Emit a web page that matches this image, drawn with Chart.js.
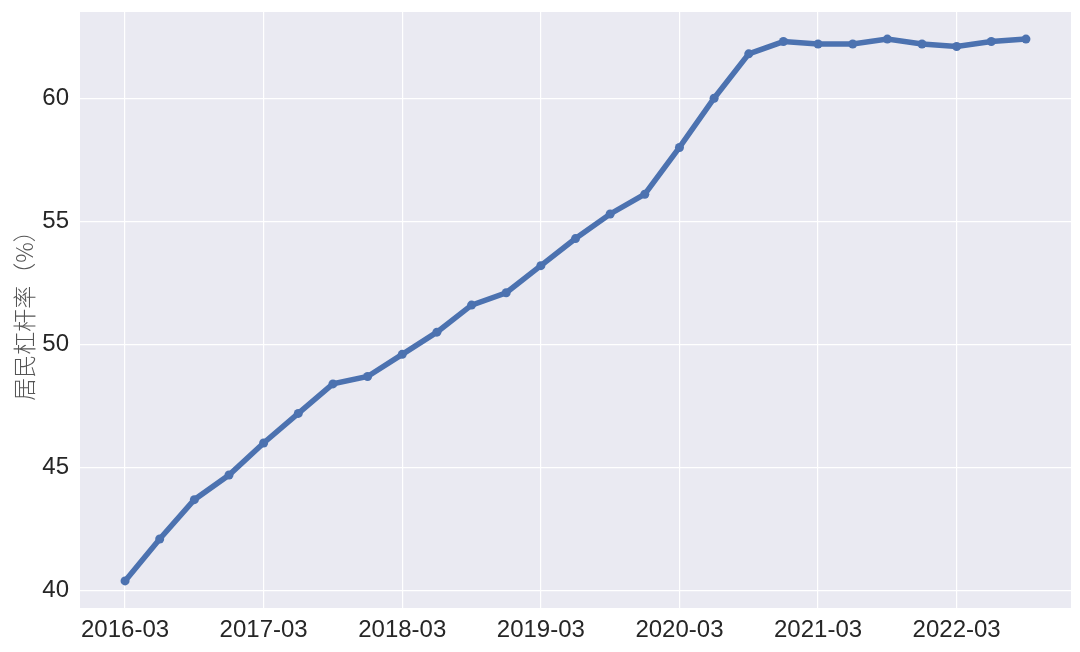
<!DOCTYPE html>
<html>
<head>
<meta charset="utf-8">
<script src="https://cdn.jsdelivr.net/npm/chart.js@4"></script>
<style>
  html, body { margin: 0; padding: 0; background: #fff; }
  #wrap { width: 1080px; height: 652px; }
</style>
</head>
<body>
<div id="wrap"><canvas id="chart"></canvas></div>
<script>
// 季度数据 2016-03 ~ 2022-09
const quarters = [
  "2016-03","2016-06","2016-09","2016-12",
  "2017-03","2017-06","2017-09","2017-12",
  "2018-03","2018-06","2018-09","2018-12",
  "2019-03","2019-06","2019-09","2019-12",
  "2020-03","2020-06","2020-09","2020-12",
  "2021-03","2021-06","2021-09","2021-12",
  "2022-03","2022-06","2022-09"
];
const leverage = [
  40.4, 42.1, 43.7, 44.7,
  46.0, 47.2, 48.4, 48.7,
  49.6, 50.5, 51.6, 52.1,
  53.2, 54.3, 55.3, 56.1,
  58.0, 60.0, 61.8, 62.3,
  62.2, 62.2, 62.4, 62.2,
  62.1, 62.3, 62.4
];
const xTickIdx = [0, 4, 8, 12, 16, 20, 24];
const yTicks = [40, 45, 50, 55, 60];

const points = leverage.map((v, i) => ({ x: i, y: v }));
const font = "'Liberation Sans', Arial, sans-serif";

new Chart(document.getElementById('chart'), {
  type: 'line',
  data: {
    datasets: [{
      data: points,
      borderColor: '#4C72B0',
      backgroundColor: '#4C72B0',
      borderWidth: 5.5,
      pointRadius: 4.5,
      pointBorderWidth: 0,
      tension: 0
    }]
  },
  options: {
    responsive: true,
    maintainAspectRatio: false,
    animation: false,
    layout: { padding: { top: 12, right: 9, left: 0, bottom: 0 } },
    plugins: {
      legend: { display: false },
      tooltip: { enabled: false }
    },
    scales: {
      x: {
        type: 'linear',
        min: -1.3,
        max: 27.3,
        afterBuildTicks: s => { s.ticks = xTickIdx.map(v => ({ value: v })); },
        afterFit: s => { s.height = 44; s.paddingLeft = 0; s.paddingRight = 0; },
        border: { display: false },
        grid: { color: '#ffffff', lineWidth: 1.2, drawTicks: false },
        ticks: {
          padding: 8,
          color: '#262626',
          font: { family: font, size: 24 },
          maxRotation: 0,
          callback: v => quarters[v]
        }
      },
      y: {
        min: 39.3,
        max: 63.5,
        afterBuildTicks: s => { s.ticks = yTicks.map(v => ({ value: v })); },
        afterFit: s => { s.width = 80; s.paddingTop = 0; s.paddingBottom = 0; },
        border: { display: false },
        grid: { color: '#ffffff', lineWidth: 1.2, drawTicks: false },
        ticks: {
          padding: 11,
          color: '#262626',
          font: { family: font, size: 24 }
        },
        title: {
          display: true,
          text: '居民杠杆率（%）',
          color: '#555555',
          padding: { top: 10, bottom: 0 },
          font: { family: "'Noto Sans CJK SC', sans-serif", size: 23, weight: 300 }
        }
      }
    }
  },
  plugins: [{
    id: 'bg',
    beforeDraw(chart) {
      const { ctx, chartArea: a } = chart;
      ctx.save();
      ctx.fillStyle = '#EAEAF2';
      ctx.fillRect(a.left, a.top, a.right - a.left, a.bottom - a.top);
      ctx.restore();
    }
  }]
});
</script>
</body>
</html>
